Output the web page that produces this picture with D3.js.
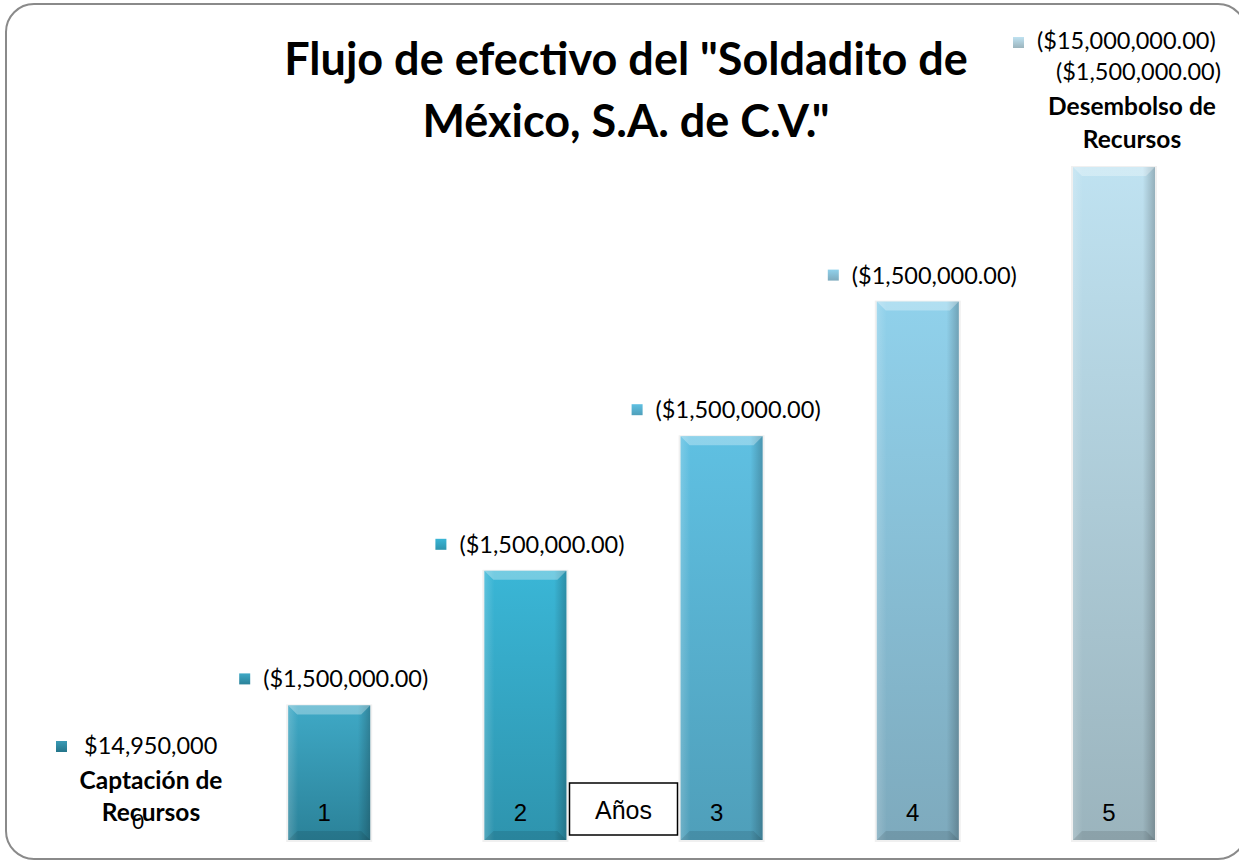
<!DOCTYPE html>
<html>
<head>
<meta charset="utf-8">
<script src="https://cdn.jsdelivr.net/npm/d3@7/dist/d3.min.js"></script>
<style>
  body { margin: 0; background: #fff; }
  svg text { font-family: Lato, "Open Sans", sans-serif; }
</style>
</head>
<body>
<svg id="chart" width="1239" height="864"></svg>
<script>
// chart data
var years = ["0", "1", "2", "3", "4", "5"];
var barYears = ["1", "2", "3", "4", "5"];
var barValues = [1500000, 3000000, 4500000, 6000000, 7500000];
var barLabels = ["($1,500,000.00)", "($1,500,000.00)", "($1,500,000.00)", "($1,500,000.00)", "($15,000,000.00)"];
var extraLabels5 = ["($1,500,000.00)"];
var inflowLabel = "$14,950,000";
var inflowTitle = ["Captación de", "Recursos"];
var outflowTitle = ["Desembolso de", "Recursos"];
var titleLines = ["Flujo de efectivo del \"Soldadito de", "México, S.A. de C.V.\""];
var axisLabel = "Años";

var topColors = ["#3fa9c6", "#3ab6d6", "#5fc0e2", "#90d1eb", "#bfe2f1"];
var bottomColors = ["#2b8299", "#2e94ae", "#4f9fba", "#7eaabd", "#9bb4bd"];
var inflowTop = "#3a9ab5", inflowBottom = "#24758a";

var svg = d3.select("#chart");

// rounded frame
svg.append("rect")
  .attr("x", 6).attr("y", 4)
  .attr("width", 1240).attr("height", 855)
  .attr("rx", 28).attr("ry", 28)
  .attr("fill", "#fff")
  .attr("stroke", "#8a8a8a")
  .attr("stroke-width", 2);

var x = d3.scalePoint()
  .domain(years)
  .range([133, 1114]);

var barW = 82;

var y = d3.scaleLinear()
  .domain([0, d3.max(barValues)])
  .range([840, 167]);

var defs = svg.append("defs");
function vgrad(id, c1, c2) {
  var g = defs.append("linearGradient")
    .attr("id", id)
    .attr("x1", 0).attr("y1", 0).attr("x2", 0).attr("y2", 1);
  g.append("stop").attr("offset", "0%").attr("stop-color", c1);
  g.append("stop").attr("offset", "100%").attr("stop-color", c2);
}
barYears.forEach(function(d, i) {
  vgrad("grad" + i, topColors[i], bottomColors[i]);
});
vgrad("gradIn", inflowTop, inflowBottom);

var sideG = defs.append("linearGradient").attr("id", "side")
  .attr("x1", 0).attr("y1", 0).attr("x2", 1).attr("y2", 0);
sideG.append("stop").attr("offset", "0%").attr("stop-color", "#fff").attr("stop-opacity", 0.18);
sideG.append("stop").attr("offset", "12%").attr("stop-color", "#fff").attr("stop-opacity", 0);
sideG.append("stop").attr("offset", "85%").attr("stop-color", "#000").attr("stop-opacity", 0);
sideG.append("stop").attr("offset", "100%").attr("stop-color", "#000").attr("stop-opacity", 0.22);

// bars
var bars = svg.append("g")
  .selectAll("g")
  .data(barValues)
  .enter()
  .append("g");

// soft shadow
bars.append("rect")
  .attr("x", (d, i) => x(barYears[i]) - barW / 2 - 2)
  .attr("y", d => y(d) - 1)
  .attr("width", barW + 4)
  .attr("height", d => y(0) - y(d) + 3)
  .attr("fill", "#000")
  .attr("opacity", 0.06);

bars.append("rect")
  .attr("x", (d, i) => x(barYears[i]) - barW / 2)
  .attr("y", d => y(d))
  .attr("width", barW)
  .attr("height", d => y(0) - y(d))
  .attr("fill", (d, i) => "url(#grad" + i + ")");

bars.append("rect")
  .attr("x", (d, i) => x(barYears[i]) - barW / 2)
  .attr("y", d => y(d))
  .attr("width", barW)
  .attr("height", d => y(0) - y(d))
  .attr("fill", "url(#side)");

// top bevel
bars.append("path")
  .attr("d", function(d, i) {
    var l = x(barYears[i]) - barW / 2, r = l + barW, t = y(d);
    return "M" + l + "," + t + "L" + r + "," + t + "L" + (r - 9) + "," + (t + 9) +
      "L" + (l + 9) + "," + (t + 9) + "Z";
  })
  .attr("fill", "#fff")
  .attr("opacity", 0.3);

// bottom bevel
bars.append("path")
  .attr("d", function(d, i) {
    var l = x(barYears[i]) - barW / 2, r = l + barW, b = y(0);
    return "M" + l + "," + b + "L" + r + "," + b + "L" + (r - 9) + "," + (b - 9) +
      "L" + (l + 9) + "," + (b - 9) + "Z";
  })
  .attr("fill", "#000")
  .attr("opacity", 0.1);

// year numbers inside the bars
bars.append("text")
  .attr("x", (d, i) => x(barYears[i]) - 5)
  .attr("y", 821)
  .attr("text-anchor", "middle")
  .style("font-family", "Liberation Sans, Arial, sans-serif")
  .style("font-size", "24px")
  .attr("fill", "#000")
  .text((d, i) => barYears[i]);

// value labels with markers (the last one sits at the top right)
function labelLeft(i) {
  var l = x(barYears[i]) - barW / 2;
  return i == 4 ? l - 36 : l - 25;
}
bars.append("rect")
  .attr("x", (d, i) => labelLeft(i) - 24)
  .attr("y", (d, i) => i == 4 ? 37 : y(d) - 32)
  .attr("width", 11).attr("height", 11)
  .attr("fill", (d, i) => "url(#grad" + i + ")");

bars.append("text")
  .attr("x", (d, i) => labelLeft(i))
  .attr("y", (d, i) => i == 4 ? 49 : y(d) - 18)
  .style("font-size", "23.5px")
  .attr("fill", "#000")
  .text((d, i) => barLabels[i]);

// extra text for year 5
var x5 = x("5") + 18;
svg.append("text")
  .attr("x", 1221).attr("y", 80)
  .attr("text-anchor", "end")
  .style("font-size", "23.5px")
  .text(extraLabels5[0]);
outflowTitle.forEach(function(t, i) {
  svg.append("text")
    .attr("x", x5).attr("y", 115 + i * 33)
    .attr("text-anchor", "middle")
    .style("font-size", "24.5px")
    .style("font-weight", "bold")
    .text(t);
});

// year 0: inflow
svg.append("rect")
  .attr("x", 56).attr("y", 741)
  .attr("width", 11).attr("height", 11)
  .attr("fill", "url(#gradIn)");
svg.append("text")
  .attr("x", 84).attr("y", 754)
  .style("font-size", "23.5px")
  .text(inflowLabel);
inflowTitle.forEach(function(t, i) {
  svg.append("text")
    .attr("x", x("0") + 18).attr("y", 789 + i * 32)
    .attr("text-anchor", "middle")
    .style("font-size", "24.5px")
    .style("font-weight", "bold")
    .text(t);
});
svg.append("text")
  .attr("x", x("0") + 5).attr("y", 829)
  .attr("text-anchor", "middle")
  .style("font-family", "Liberation Sans, Arial, sans-serif")
  .style("font-size", "22px")
  .text(years[0]);

// axis label box
var ax = (x("2") + x("3")) / 2;
svg.append("rect")
  .attr("x", ax - 54).attr("y", 783)
  .attr("width", 108).attr("height", 52)
  .attr("fill", "#fff")
  .attr("stroke", "#000")
  .attr("stroke-width", 1.5);
svg.append("text")
  .attr("x", ax).attr("y", 819)
  .attr("text-anchor", "middle")
  .style("font-family", "Liberation Sans, Arial, sans-serif")
  .style("font-size", "25px")
  .text(axisLabel);

// title
titleLines.forEach(function(t, i) {
  svg.append("text")
    .attr("x", 626).attr("y", 75 + i * 62)
    .attr("text-anchor", "middle")
    .style("font-size", "45px")
    .style("font-weight", "bold")
    .text(t);
});
</script>
</body>
</html>
